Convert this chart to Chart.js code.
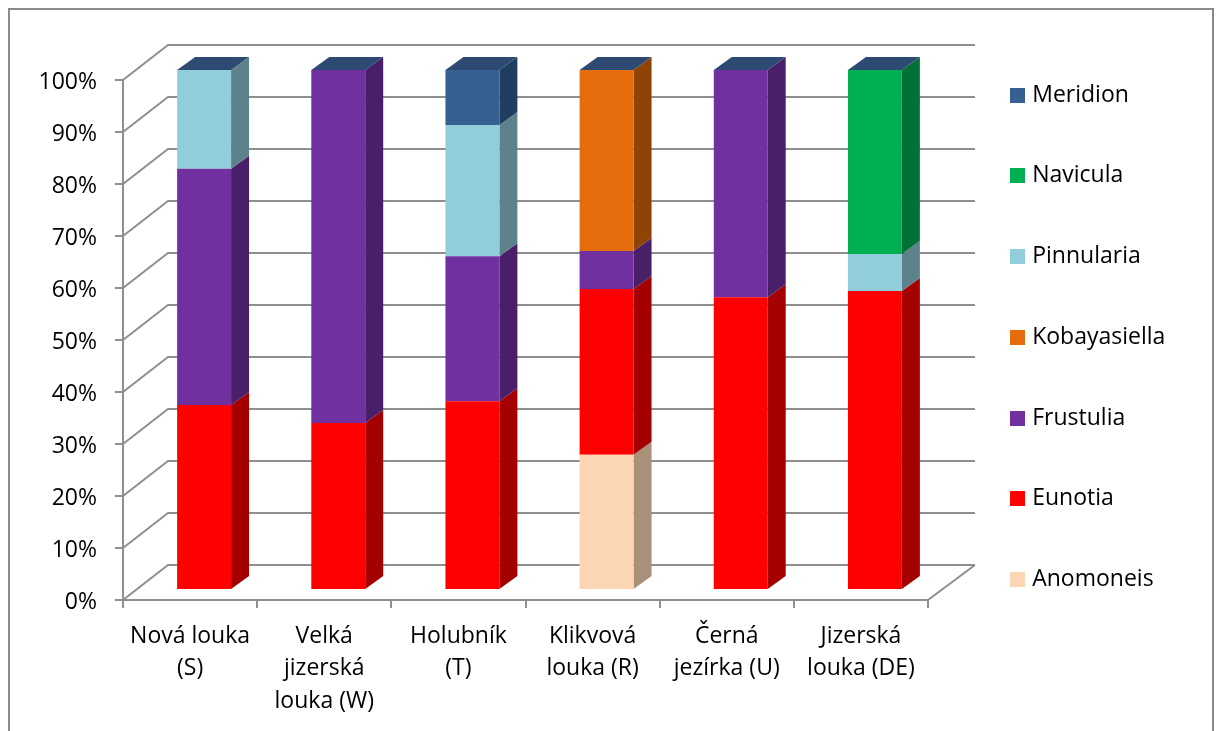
<!DOCTYPE html>
<html>
<head>
<meta charset="utf-8">
<style>
  html, body { margin: 0; padding: 0; background: #fff; overflow: hidden; }
  #wrap { width: 1219px; height: 731px; }
</style>
</head>
<body>
<div id="wrap"><canvas id="chart" width="1219" height="731"></canvas></div>
<script src="https://cdn.jsdelivr.net/npm/chart.js@4/dist/chart.umd.min.js"></script>
<script>
const categories = [
  ["Nová louka", "(S)"],
  ["Velká", "jizerská", "louka (W)"],
  ["Holubník", "(T)"],
  ["Klikvová", "louka (R)"],
  ["Černá", "jezírka (U)"],
  ["Jizerská", "louka (DE)"]
];

// percent shares per site, bottom of the stack first
const anomoneis    = [0, 0, 0, 26, 0, 0];
const eunotia      = [35.6, 32.1, 36.3, 31.9, 56.3, 57.5];
const frustulia    = [45.4, 67.9, 27.9, 7.3, 43.7, 0];
const kobayasiella = [0, 0, 0, 34.8, 0, 0];
const pinnularia   = [19, 0, 25.2, 0, 0, 7.1];
const navicula     = [0, 0, 0, 0, 0, 35.4];
const meridion     = [0, 0, 10.6, 0, 0, 0];

const yTicks = [0, 10, 20, 30, 40, 50, 60, 70, 80, 90, 100];

const FONT = "'Open Sans', sans-serif";
const GRID = "#8f8f8f";
const CAP = "#2c4a72";

// fake 3D: wall depth, bar offset into the box, bar depth
const WALL = { dx: 47, dy: -35 };
const SHIFT = { dx: 14, dy: -10 };
const BAR = { dx: 18, dy: -13 };

function ds(label, data, color, side) {
  return { label, data, backgroundColor: color, sideColor: side, borderWidth: 0 };
}

function swatch(color) {
  const c = document.createElement("canvas");
  c.width = 15;
  c.height = 15;
  const g = c.getContext("2d");
  g.fillStyle = color;
  g.fillRect(0, 0, 15, 15);
  return c;
}

function poly(ctx, pts, color) {
  ctx.fillStyle = color;
  ctx.beginPath();
  pts.forEach((p, i) => i ? ctx.lineTo(p[0], p[1]) : ctx.moveTo(p[0], p[1]));
  ctx.closePath();
  ctx.fill();
}

const box3d = {
  id: "box3d",
  beforeDraw(chart) {
    const ctx = chart.ctx;
    ctx.save();
    ctx.strokeStyle = "#8a8a8a";
    ctx.lineWidth = 2;
    ctx.strokeRect(9, 9, 1204, 800);
    ctx.restore();
  },
  beforeLayout(chart) {
    // reserve a fixed gutter on the right for the legend
    const legend = chart.legend;
    const fit = legend.fit;
    legend.fit = function () {
      fit.call(this);
      this.width = 291;
    };
  },
  afterLayout(chart) {
    const l = chart.legend;
    l.left = 957;
    l.top = 26;
    l.bottom = 731;
  },
  beforeDatasetsDraw(chart) {
    const { ctx, chartArea: a, scales } = chart;
    ctx.save();
    ctx.strokeStyle = GRID;
    ctx.lineWidth = 2;
    ctx.beginPath();
    yTicks.forEach(t => {
      const y = scales.y.getPixelForValue(t);
      ctx.moveTo(a.left, y);
      ctx.lineTo(a.left + 45, y + WALL.dy);
      ctx.lineTo(a.right + WALL.dx, y + WALL.dy);
    });
    // floor's right edge
    ctx.moveTo(a.right, a.bottom);
    ctx.lineTo(a.right + WALL.dx, a.bottom + WALL.dy);
    ctx.stroke();
    ctx.restore();

    // stays translated until afterDatasetsDraw so the fronts line up
    ctx.save();
    ctx.translate(SHIFT.dx, SHIFT.dy);
    chart.data.datasets.forEach((set, i) => {
      chart.getDatasetMeta(i).data.forEach((bar, j) => {
        if (!set.data[j]) return;
        const r = bar.x + bar.width / 2;
        poly(ctx, [
          [r, bar.y], [r + BAR.dx, bar.y + BAR.dy],
          [r + BAR.dx, bar.base + BAR.dy], [r, bar.base]
        ], set.sideColor);
      });
    });
    const last = chart.getDatasetMeta(chart.data.datasets.length - 1);
    last.data.forEach(bar => {
      const l = bar.x - bar.width / 2;
      const r = bar.x + bar.width / 2;
      poly(ctx, [
        [l, bar.y], [r, bar.y],
        [r + BAR.dx, bar.y + BAR.dy], [l + BAR.dx, bar.y + BAR.dy]
      ], CAP);
    });
  },
  afterDatasetsDraw(chart) {
    chart.ctx.restore();
  }
};

new Chart(document.getElementById("chart"), {
  type: "bar",
  data: {
    labels: categories,
    datasets: [
      ds("Anomoneis", anomoneis, "#fcd5b5", "#a89079"),
      ds("Eunotia", eunotia, "#ff0000", "#a40000"),
      ds("Frustulia", frustulia, "#7030a0", "#4a1f69"),
      ds("Kobayasiella", kobayasiella, "#e46c0a", "#8f4405"),
      ds("Pinnularia", pinnularia, "#92cddc", "#5e828c"),
      ds("Navicula", navicula, "#00b050", "#007236"),
      ds("Meridion", meridion, "#366092", "#203e60")
    ]
  },
  plugins: [box3d],
  options: {
    responsive: false,
    animation: false,
    layout: { padding: { top: 80, left: 0, right: 0, bottom: 0 } },
    datasets: { bar: { categoryPercentage: 1, barPercentage: 0.402, clip: false } },
    plugins: {
      tooltip: { enabled: false },
      legend: {
        position: "right",
        align: "start",
        reverse: true,
        labels: {
          color: "#000",
          font: { family: FONT, size: 23 },
          padding: 57.7,
          usePointStyle: true,
          pointStyleWidth: 6,
          generateLabels(chart) {
            return Chart.defaults.plugins.legend.labels.generateLabels(chart).map(item => {
              item.pointStyle = swatch(chart.data.datasets[item.datasetIndex].backgroundColor);
              item.lineWidth = 0;
              return item;
            });
          }
        }
      }
    },
    scales: {
      x: {
        stacked: true,
        afterFit(scale) { scale.height = 131; },
        border: { color: GRID, width: 2 },
        grid: { drawOnChartArea: false, color: GRID, lineWidth: 2, tickLength: 8 },
        ticks: {
          color: "#000",
          maxRotation: 0,
          autoSkip: false,
          padding: 12,
          font: { family: FONT, size: 23, lineHeight: 1.41 }
        }
      },
      y: {
        stacked: true,
        min: 0,
        max: 100,
        afterFit(scale) { scale.width = 123; },
        border: { color: GRID, width: 2 },
        grid: { drawOnChartArea: false, color: GRID, lineWidth: 2, tickLength: 8 },
        ticks: {
          color: "#000",
          stepSize: 10,
          padding: 18,
          labelOffset: 2,
          font: { family: FONT, size: 23 },
          callback: v => v + "%"
        }
      }
    }
  }
});
</script>
</body>
</html>
